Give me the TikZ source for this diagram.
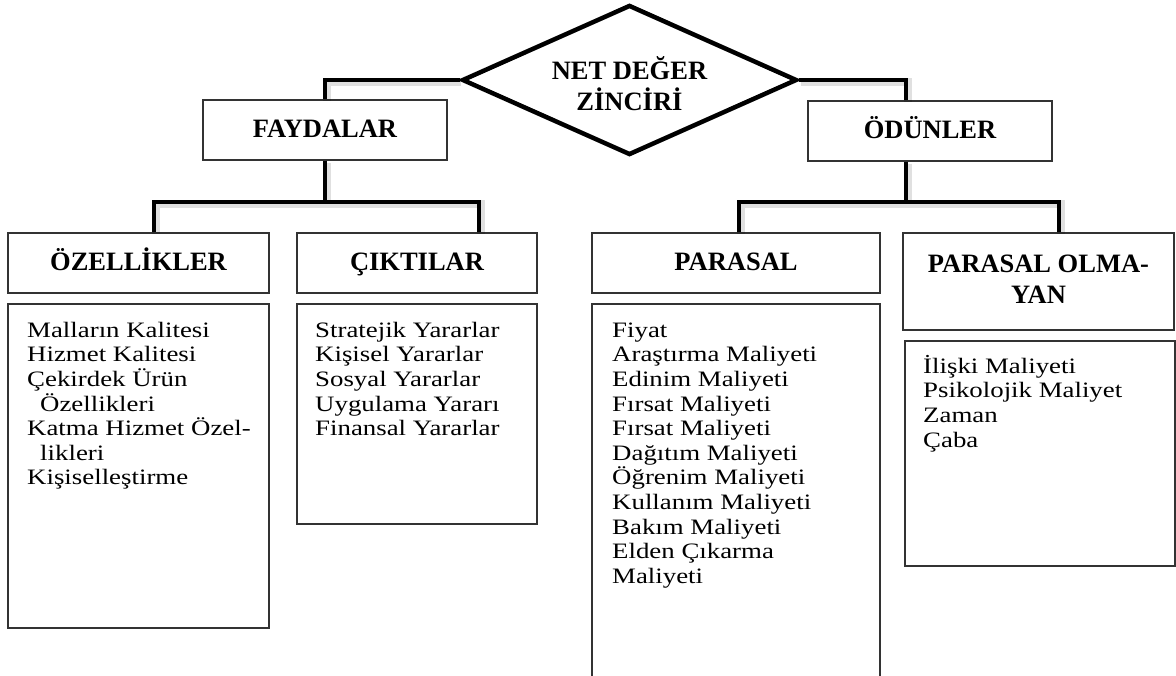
\documentclass[tikz,border=0pt]{standalone}
\usepackage{fontspec}
\setmainfont{Liberation Serif}
\newfontfamily\listfont[FakeStretch=1.22]{Liberation Serif}
\usetikzlibrary{shapes.geometric}

% first-line strut so every list starts on the same baseline
\newcommand\firstln{\rule{0pt}{21pt}}

\tikzset{
  hdrfont/.style={font=\bfseries\fontsize{26.5}{31}\selectfont},
  hdrbox/.style={draw=black!80, line width=1.3pt, minimum height=60pt, inner sep=0pt,
    text height=19.5pt, text depth=4.5pt, align=center, hdrfont},
  listbox/.style={draw=black!80, line width=1.3pt, inner sep=0pt},
  listtext/.style={anchor=north west, inner sep=0pt, align=left,
    font=\listfont\fontsize{22}{24.6}\selectfont},
  netdia/.style={diamond, draw=black, line width=4.5pt, minimum width=335pt,
    minimum height=150pt, aspect=2.2, inner sep=0pt},
  conn/.style={line width=4.5pt, draw=black,
    preaction={draw=black, opacity=0.12, line width=8pt,
      transform canvas={shift={(1.5pt,-2pt)}}}}
}

\begin{document}
\begin{tikzpicture}[x=1pt, y=-1pt]
\useasboundingbox (0,0) rectangle (1176,676);
\clip (0,0) rectangle (1176,676);

% top: net value chain
\node[netdia] (net) at (629.5,80) {};
\node[hdrfont, align=center, inner sep=0pt] (nettitle) at (629.5,84) {NET DEĞER\\ZİNCİRİ};

% first level
\node[hdrbox, minimum width=244pt] (fay) at (325,130) {FAYDALAR};
\node[hdrbox, minimum width=244pt] (odu) at (930,131) {ÖDÜNLER};

% second level headers
\node[hdrbox, minimum width=261pt] (ozl) at (138.5,263) {ÖZELLİKLER};
\node[hdrbox, minimum width=240pt] (cik) at (417,263) {ÇIKTILAR};
\node[hdrbox, minimum width=288pt] (par) at (736,263) {PARASAL};
\node[hdrbox, minimum width=271pt, minimum height=97pt, text height=0pt, text depth=0pt] (npar) at (1038.5,281.5) {};
\node[hdrfont, align=center, inner sep=0pt] (npartitle) at (1038.5,279) {PARASAL OLMA-\\YAN};

% list boxes
\node[listbox, minimum width=261pt, minimum height=324pt] (ozlbox) at (138.5,466) {};
\node[listbox, minimum width=240pt, minimum height=220pt] (cikbox) at (417,414) {};
\node[listbox, minimum width=288pt, minimum height=400pt] (parbox) at (736,504) {};
\node[listbox, minimum width=270pt, minimum height=225pt] (nparbox) at (1040,453.5) {};

% list contents
\node[listtext] (ozltext) at (27,316) {\firstln Malların Kalitesi\\Hizmet Kalitesi\\Çekirdek Ürün\\
  \hspace*{13pt}Özellikleri\\Katma Hizmet Özel-\\\hspace*{13pt}likleri\\Kişiselleştirme};
\node[listtext] (ciktext) at (315,316) {\firstln Stratejik Yararlar\\Kişisel Yararlar\\Sosyal Yararlar\\
  Uygulama Yararı\\Finansal Yararlar};
\node[listtext] (partext) at (612,316) {\firstln Fiyat\\Araştırma Maliyeti\\Edinim Maliyeti\\
  Fırsat Maliyeti\\Fırsat Maliyeti\\Dağıtım Maliyeti\\Öğrenim Maliyeti\\Kullanım Maliyeti\\
  Bakım Maliyeti\\Elden Çıkarma\\Maliyeti};
\node[listtext] (npartext) at (923,352) {\firstln İlişki Maliyeti\\Psikolojik Maliyet\\Zaman\\Çaba};

% branch positions
\coordinate (bar) at (0,202);
\coordinate (odux) at (906,0);
\coordinate (ozlx) at (154,0);
\coordinate (cikx) at (479,0);
\coordinate (parx) at (739,0);
\coordinate (nparx) at (1059,0);

% connectors
\draw[conn] (net.west) -| (fay.north);
\draw[conn] (net.east) -| (odu.north -| odux);
\draw[conn] (fay.south) -- (fay.south |- bar);
\draw[conn] (ozl.north -| ozlx) -- (ozlx |- bar) -- (cikx |- bar) -- (cik.north -| cikx);
\draw[conn] (odu.south -| odux) -- (odux |- bar);
\draw[conn] (par.north -| parx) -- (parx |- bar) -- (nparx |- bar) -- (npar.north -| nparx);
\end{tikzpicture}
\end{document}
